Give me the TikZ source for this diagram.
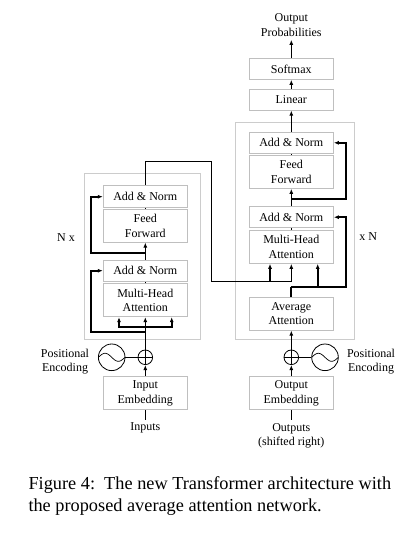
\documentclass[tikz,border=0pt]{standalone}
\usepackage{fontspec}
\setmainfont{Liberation Serif}
\usetikzlibrary{arrows.meta}

\begin{document}
\begin{tikzpicture}[x=1pt, y=-1pt,
	layer/.style={draw=gray!50, line width=1pt, minimum width=84pt, inner sep=0pt, align=center, font=\fontsize{12}{14.5}\selectfont},
	stack/.style={draw=gray!40, line width=1pt},
	lbl/.style={align=center, font=\fontsize{12}{14.5}\selectfont},
	flow/.style={line width=1.6pt, -{Latex[length=5pt,width=4pt]}},
	res/.style={line width=2pt, -{Latex[length=5pt,width=4pt]}},
	link/.style={line width=1.2pt},
	joint/.style={line width=0.7pt},
	plusc/.style={circle, draw, line width=0.8pt, minimum size=14.6pt, inner sep=0pt},
	sinec/.style={circle, draw, line width=0.8pt, minimum size=26.6pt, inner sep=0pt}]

\useasboundingbox (0,0) rectangle (410,535);

% encoder
\draw[stack] (84.3,173.3) rectangle (200.3,339);
\node[layer, minimum height=22pt] (encadd2) at (145.3,196.7) {Add \& Norm};
\node[layer, minimum height=32.7pt] (encff) at (145.3,225.7) {Feed\\Forward};
\node[layer, minimum height=21.3pt] (encadd1) at (145.3,270.7) {Add \& Norm};
\node[layer, minimum height=32.7pt] (encmha) at (145.3,300.3) {Multi-Head\\Attention};
\node[lbl] (encn) at (66,237.3) {N x};

\node[layer, minimum height=33.3pt] (inemb) at (145.3,393.3) {Input\\Embedding};
\node[lbl] (inputs) at (145.3,428.3) {Inputs};
\node[plusc] (encplus) at (145.3,357.3) {};
\node[sinec] (encpos) at (111.7,357.3) {};
\node[lbl] (encposl) at (65,361.5) {Positional\\Encoding};

% decoder
\draw[stack] (235.7,122.7) rectangle (354.3,339);
\node[layer, minimum height=21pt] (decadd2) at (291.3,142.8) {Add \& Norm};
\node[layer, minimum height=33pt] (decff) at (291.3,171.8) {Feed\\Forward};
\node[layer, minimum height=21pt] (decadd1) at (291.3,217.2) {Add \& Norm};
\node[layer, minimum height=33pt] (decmha) at (291.3,246.8) {Multi-Head\\Attention};
\node[layer, minimum height=32.7pt] (decavg) at (291.3,313.7) {Average\\Attention};
\node[lbl] (decn) at (368.3,236.7) {x N};

\node[layer, minimum height=20.7pt] (linear) at (291.3,99.7) {Linear};
\node[layer, minimum height=20.7pt] (softmax) at (291.3,69) {Softmax};
\node[lbl] (outprob) at (291.3,25) {Output\\Probabilities};

\node[layer, minimum height=33.3pt] (outemb) at (291.3,393.3) {Output\\Embedding};
\node[lbl] (outputs) at (291.3,436) {Outputs\\(shifted right)};
\node[plusc] (decplus) at (291.3,357.3) {};
\node[sinec] (decpos) at (325,357.3) {};
\node[lbl] (decposl) at (371,361.5) {Positional\\Encoding};

% plus and sine glyphs
\draw[line width=0.8pt] (encplus.north) -- (encplus.south) (encplus.west) -- (encplus.east);
\draw[line width=0.8pt] (decplus.north) -- (decplus.south) (decplus.west) -- (decplus.east);
\draw[line width=0.7pt, shift={(encpos.center)}] plot[domain=-1:1, samples=40] ({\x*13.3}, {4*sin(\x*180)});
\draw[line width=0.7pt, shift={(decpos.center)}] plot[domain=-1:1, samples=40] ({\x*13.3}, {4*sin(\x*180)});

% encoder connections
\draw[link] (inemb.south) -- (inputs.north);
\draw[flow] (inemb.north) -- (encplus.south);
\draw[link] (encpos.east) -- (encplus.west);
\draw[flow] (encplus.north) -- (encmha.south);
\coordinate (encfork) at (145.3,326.7);
\draw[flow] (encfork) -| ([xshift=-26.3pt]encmha.south);
\draw[flow] (encfork) -| ([xshift=26.4pt]encmha.south);
\coordinate (encres1) at (145.3,332);
\draw[res] (encres1) -- ++(-54.6,0) |- (encadd1.west);
\draw[joint] (encmha.north) -- (encadd1.south);
\draw[flow] (encadd1.north) -- (encff.south);
\coordinate (encres2) at (145.3,252.7);
\draw[res] (encres2) -- ++(-54.6,0) |- (encadd2.west);
\draw[joint] (encff.north) -- (encadd2.south);

% encoder to decoder
\coordinate (crossin) at (291.3,281.7);
\draw[link] (encadd2.north) -- ++(0,-24) -| (211.7,281.7) -- (crossin);
\draw[flow] (crossin) -- (decmha.south);
\draw[flow] (270,281.7) -- ([xshift=-21.3pt]decmha.south);

% decoder connections
\draw[link] (outemb.south) -- (outputs.north);
\draw[flow] (outemb.north) -- (decplus.south);
\draw[link] (decpos.west) -- (decplus.east);
\draw[flow] (decplus.north) -- (decavg.south);
\coordinate (decfork) at (291.3,287.3);
\draw[link, line width=2pt] (decavg.north) -- (decfork);
\draw[flow] (decfork) -| ([xshift=26.4pt]decmha.south);
\draw[res] (decfork) -- ++(54.7,0) |- (decadd1.east);
\draw[joint] (decmha.north) -- (decadd1.south);
\draw[flow] (decadd1.north) -- (decff.south);
\coordinate (decres2) at (291.3,199);
\draw[res] (decres2) -- ++(54.7,0) |- (decadd2.east);
\draw[joint] (decff.north) -- (decadd2.south);
\draw[flow] (decadd2.north) -- (linear.south);
\draw[flow] (linear.north) -- (softmax.south);
\draw[flow] (softmax.north) -- (outprob.south);

% caption
\node[anchor=north west, align=left, inner sep=0pt, font=\fontsize{18.3}{22}\selectfont] (caption) at (28.3,476.5) {Figure 4:\ \ The new Transformer architecture with\\the proposed average attention network.};

\end{tikzpicture}
\end{document}
